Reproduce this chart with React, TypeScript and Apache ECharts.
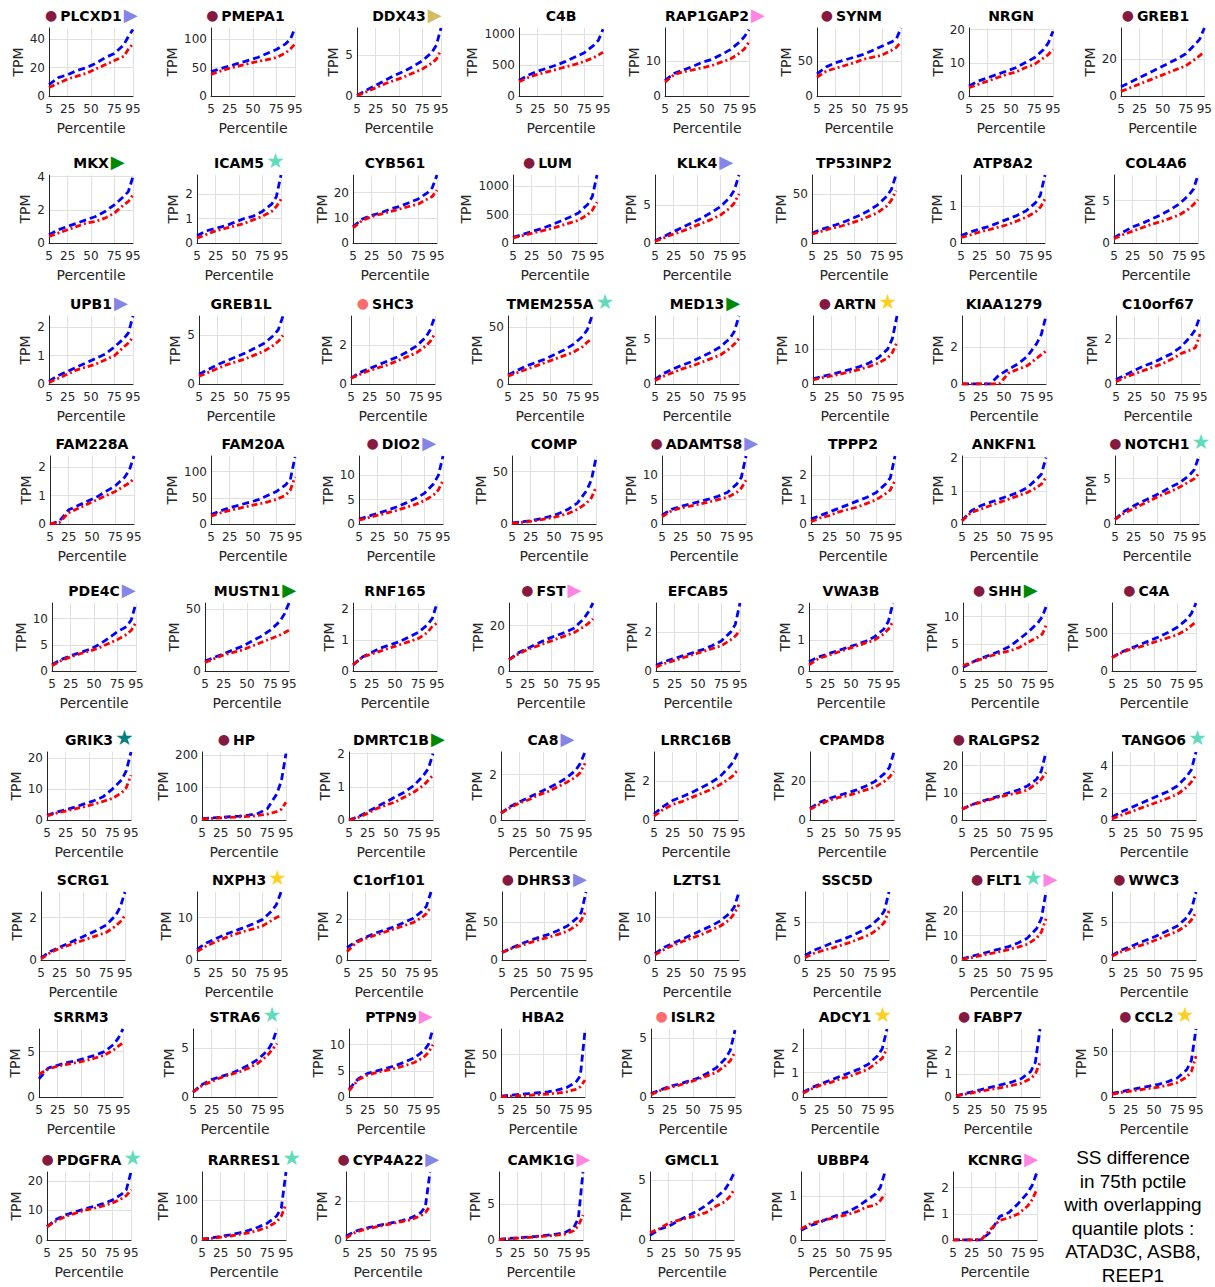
import React, { useEffect, useRef } from "react";
import * as echarts from "echarts";

// ---------------- data ----------------
const PERCENTILES = [5, 15, 25, 35, 45, 55, 65, 75, 85, 90, 95];
const X_TICKS = [5, 25, 50, 75, 95];

const GENES = [
  "PLCXD1", "PMEPA1", "DDX43", "C4B", "RAP1GAP2", "SYNM", "NRGN", "GREB1",
  "MKX", "ICAM5", "CYB561", "LUM", "KLK4", "TP53INP2", "ATP8A2", "COL4A6",
  "UPB1", "GREB1L", "SHC3", "TMEM255A", "MED13", "ARTN", "KIAA1279", "C10orf67",
  "FAM228A", "FAM20A", "DIO2", "COMP", "ADAMTS8", "TPPP2", "ANKFN1", "NOTCH1",
  "PDE4C", "MUSTN1", "RNF165", "FST", "EFCAB5", "VWA3B", "SHH", "C4A",
  "GRIK3", "HP", "DMRTC1B", "CA8", "LRRC16B", "CPAMD8", "RALGPS2", "TANGO6",
  "SCRG1", "NXPH3", "C1orf101", "DHRS3", "LZTS1", "SSC5D", "FLT1", "WWC3",
  "SRRM3", "STRA6", "PTPN9", "HBA2", "ISLR2", "ADCY1", "FABP7", "CCL2",
  "PDGFRA", "RARRES1", "CYP4A22", "CAMK1G", "GMCL1", "UBBP4", "KCNRG",
];

// c = dark red circle, s = salmon circle
const LEFT_MARK = [
  "c", "c", "", "", "", "c", "", "c",
  "", "", "", "c", "", "", "", "",
  "", "", "s", "", "", "c", "", "",
  "", "", "c", "", "c", "", "", "c",
  "", "", "", "c", "", "", "c", "c",
  "", "c", "", "", "", "", "c", "",
  "", "", "", "c", "", "", "c", "c",
  "", "", "", "", "s", "", "c", "c",
  "c", "", "c", "", "", "", "",
];
// L lavender tri, P pink tri, G green tri, K khaki tri, T light teal star, D dark teal star, Y yellow star
const RIGHT_MARK = [
  "L", "", "K", "", "P", "", "", "",
  "G", "T", "", "", "L", "", "", "",
  "L", "", "", "T", "G", "Y", "", "",
  "", "", "L", "", "L", "", "", "T",
  "L", "G", "", "P", "", "", "G", "",
  "D", "", "G", "L", "", "", "", "T",
  "", "Y", "", "L", "", "", "TP", "",
  "", "T", "P", "", "", "Y", "", "Y",
  "T", "T", "L", "P", "", "", "P",
];

const Y_MAX = [
  48, 120, 8.3, 1100, 19.5, 98, 20.5, 37,
  4.1, 2.8, 27, 1200, 9, 70, 1.85, 8,
  2.4, 7, 3.5, 60, 7.5, 19.5, 3.7, 3,
  2.4, 130, 14, 65, 14, 2.8, 2.05, 7.5,
  13, 55, 2.2, 30, 3.5, 2.2, 12.5, 900,
  22, 210, 2.05, 3, 3.5, 35, 25, 5,
  3.2, 16, 3.3, 90, 16, 9, 28, 9,
  7.5, 7, 13, 80, 5.8, 2.8, 2.95, 75,
  23, 170, 3.5, 9.5, 5.7, 1.55, 2.6,
];
const Y_STEP = [
  20, 50, 5, 500, 10, 50, 10, 20,
  2, 1, 10, 500, 5, 50, 1, 5,
  1, 5, 2, 50, 5, 10, 2, 2,
  1, 50, 5, 50, 5, 1, 1, 5,
  5, 50, 1, 20, 2, 1, 5, 500,
  10, 100, 1, 2, 2, 20, 10, 2,
  2, 10, 2, 50, 10, 5, 10, 5,
  5, 5, 5, 50, 5, 1, 1, 50,
  10, 100, 2, 5, 5, 1, 1,
];

const BLUE_TPM = [
  [8, 13, 15, 18, 20, 23, 27, 30, 36, 42, 47],
  [43, 48, 53, 58, 63, 68, 75, 82, 92, 100, 120],
  [0.1, 0.7, 1.3, 1.9, 2.5, 3.0, 3.6, 4.3, 5.3, 6.2, 8.3],
  [250, 340, 400, 450, 500, 560, 630, 700, 820, 900, 1080],
  [4.5, 6.5, 7.5, 8.5, 9.7, 10.5, 11.8, 13.3, 15.5, 17, 19],
  [32, 42, 48, 52, 56, 60, 66, 72, 78, 82, 98],
  [3, 4.5, 5.5, 6.5, 7.5, 8.5, 10, 11.5, 14, 16, 19.5],
  [5, 7.5, 10, 12.5, 15, 17.5, 20, 23, 28, 31, 37],

  [0.5, 0.8, 1.0, 1.2, 1.4, 1.6, 1.9, 2.3, 2.8, 3.1, 4.0],
  [0.3, 0.5, 0.6, 0.7, 0.85, 1.0, 1.1, 1.3, 1.6, 1.9, 2.8],
  [6.5, 9.5, 11, 12, 13.5, 14.5, 16, 17.5, 20, 22, 27],
  [100, 150, 200, 250, 310, 380, 450, 530, 680, 820, 1200],
  [0.3, 0.9, 1.5, 2.1, 2.7, 3.3, 4.0, 4.8, 6.0, 7.0, 9.0],
  [10, 14, 17, 20, 24, 28, 33, 39, 48, 55, 70],
  [0.2, 0.3, 0.38, 0.45, 0.55, 0.65, 0.75, 0.88, 1.1, 1.3, 1.85],
  [0.6, 1.3, 1.9, 2.3, 2.8, 3.3, 3.9, 4.6, 5.6, 6.3, 8.0],

  [0.1, 0.3, 0.45, 0.6, 0.75, 0.9, 1.05, 1.3, 1.6, 1.8, 2.4],
  [1.0, 1.5, 2.0, 2.4, 2.8, 3.2, 3.7, 4.2, 5.0, 5.6, 7.0],
  [0.3, 0.6, 0.8, 1.0, 1.2, 1.4, 1.65, 1.95, 2.4, 2.8, 3.5],
  [8, 12, 16, 19, 22, 26, 30, 35, 42, 48, 60],
  [0.5, 1.2, 1.7, 2.1, 2.5, 3.0, 3.5, 4.1, 5.0, 5.8, 7.5],
  [1.5, 2.2, 2.8, 3.5, 4.2, 5.0, 6.0, 7.5, 10, 13, 19.5],
  [0, 0, 0, 0, 0.5, 0.8, 1.1, 1.5, 2.2, 2.7, 3.7],
  [0.2, 0.4, 0.6, 0.8, 0.95, 1.15, 1.35, 1.65, 2.1, 2.4, 3.0],

  [0, 0.1, 0.5, 0.65, 0.8, 0.95, 1.15, 1.35, 1.65, 1.9, 2.4],
  [18, 25, 31, 36, 41, 46, 54, 62, 75, 85, 128],
  [1.0, 1.6, 2.2, 2.8, 3.5, 4.3, 5.2, 6.3, 8.3, 10, 14],
  [1, 2, 3, 5, 7, 10, 14, 20, 32, 42, 63],
  [1.8, 3.0, 3.6, 4.1, 4.6, 5.1, 5.7, 6.5, 8.2, 9.6, 14],
  [0.2, 0.35, 0.5, 0.65, 0.8, 0.95, 1.1, 1.3, 1.65, 1.9, 2.8],
  [0.1, 0.4, 0.55, 0.65, 0.75, 0.85, 0.95, 1.1, 1.35, 1.5, 2.0],
  [0.5, 1.4, 2.0, 2.5, 3.0, 3.5, 4.1, 4.6, 5.4, 6.0, 7.5],

  [1.2, 2.2, 2.9, 3.5, 4.1, 5.0, 6.2, 7.5, 8.5, 9.8, 13],
  [8, 11, 14, 17, 20, 24, 28, 33, 40, 46, 55],
  [0.2, 0.45, 0.6, 0.75, 0.85, 0.95, 1.1, 1.25, 1.5, 1.7, 2.2],
  [5, 8, 10, 12, 14, 15.5, 17, 19, 23, 26, 30],
  [0.3, 0.5, 0.65, 0.8, 0.95, 1.1, 1.3, 1.55, 2.0, 2.4, 3.5],
  [0.3, 0.45, 0.55, 0.65, 0.75, 0.85, 0.95, 1.1, 1.35, 1.6, 2.2],
  [0.7, 1.6, 2.4, 3.0, 3.7, 4.5, 5.8, 7.2, 8.8, 10, 12.3],
  [180, 250, 300, 350, 400, 450, 510, 580, 680, 760, 900],

  [1.5, 2.5, 3.3, 4.2, 5.2, 6.2, 7.5, 10, 13, 16, 22],
  [4, 6, 8, 10, 12, 15, 20, 35, 80, 120, 205],
  [0, 0.1, 0.25, 0.4, 0.55, 0.7, 0.85, 1.05, 1.35, 1.55, 2.0],
  [0.3, 0.6, 0.8, 1.0, 1.2, 1.4, 1.6, 1.85, 2.2, 2.5, 3.0],
  [0.3, 0.7, 1.0, 1.2, 1.4, 1.65, 1.9, 2.2, 2.7, 3.0, 3.5],
  [6, 9, 11, 12.5, 14, 15.5, 17.5, 20, 24, 27, 35],
  [4, 5.5, 6.8, 7.8, 8.8, 10, 11, 12.5, 15, 18, 25],
  [0.2, 0.6, 0.9, 1.2, 1.5, 1.8, 2.1, 2.5, 3.2, 3.7, 5.0],

  [0.1, 0.4, 0.6, 0.8, 1.0, 1.2, 1.4, 1.65, 2.1, 2.5, 3.2],
  [2.5, 4, 5, 6, 6.8, 7.6, 8.5, 9.5, 11.5, 13, 16],
  [0.6, 0.9, 1.1, 1.3, 1.45, 1.6, 1.8, 2.0, 2.35, 2.6, 3.3],
  [10, 16, 21, 26, 30, 34, 39, 45, 55, 63, 90],
  [1.5, 3, 4, 5, 6, 7, 8, 9.2, 11, 12.5, 16],
  [0.6, 1.3, 1.8, 2.3, 2.7, 3.2, 3.8, 4.5, 5.6, 6.5, 9.0],
  [0.5, 1.5, 2.5, 3.5, 4.5, 5.5, 7, 9, 13, 17, 28],
  [0.6, 1.3, 1.8, 2.3, 2.8, 3.3, 3.9, 4.5, 5.6, 6.6, 9.0],

  [2, 3.2, 3.5, 3.8, 4.0, 4.3, 4.6, 5.0, 5.8, 6.5, 7.5],
  [0.5, 1.3, 1.8, 2.1, 2.4, 2.8, 3.3, 3.9, 4.8, 5.6, 7.0],
  [1.5, 3.5, 4.5, 5.0, 5.5, 6.0, 6.7, 7.5, 8.8, 10, 13],
  [1, 2, 3, 4, 5, 6, 8, 11, 17, 25, 78],
  [0.3, 0.6, 0.9, 1.1, 1.35, 1.6, 2.0, 2.5, 3.3, 4.0, 5.7],
  [0.2, 0.4, 0.55, 0.7, 0.85, 1.0, 1.15, 1.35, 1.7, 2.0, 2.8],
  [0.05, 0.15, 0.25, 0.35, 0.45, 0.55, 0.65, 0.8, 1.1, 1.5, 2.95],
  [4, 6, 8, 10, 12, 14, 17, 21, 30, 40, 75],

  [4.5, 7, 8.5, 9.5, 10.5, 11.3, 12.3, 13.5, 15.5, 17, 23],
  [2, 5, 9, 13, 18, 24, 32, 42, 60, 80, 170],
  [0.2, 0.45, 0.6, 0.7, 0.8, 0.9, 1.0, 1.15, 1.4, 1.7, 3.5],
  [0.1, 0.2, 0.3, 0.4, 0.5, 0.65, 0.8, 1.0, 1.7, 3.0, 9.5],
  [0.4, 0.9, 1.15, 1.6, 2.0, 2.4, 2.9, 3.5, 4.2, 4.8, 5.6],
  [0.22, 0.33, 0.4, 0.5, 0.57, 0.64, 0.75, 0.9, 1.05, 1.2, 1.55],
  [0, 0, 0, 0, 0.3, 0.9, 1.05, 1.4, 1.8, 2.1, 2.6],
];

const RED_TPM = [
  [6, 9, 12, 14, 16, 19, 22, 25, 28, 33, 37],
  [38, 44, 49, 53, 57, 61, 64, 68, 76, 83, 92],
  [0.05, 0.5, 1.0, 1.5, 1.9, 2.3, 2.8, 3.3, 4.0, 4.5, 5.6],
  [230, 300, 350, 390, 430, 470, 510, 560, 620, 660, 710],
  [4, 6.2, 7, 7.5, 8.1, 8.7, 9.7, 10.6, 12.3, 13.5, 15.5],
  [27, 36, 40, 44, 48, 53, 56, 59, 66, 70, 78],
  [2.5, 3.5, 4.5, 5.5, 6.5, 7.2, 8.5, 9.5, 11.5, 12.5, 14],
  [2.5, 4.5, 6.5, 8.5, 10.5, 12.5, 14.5, 16.5, 20, 22, 24],

  [0.4, 0.6, 0.8, 1.0, 1.2, 1.3, 1.5, 1.8, 2.3, 2.5, 2.9],
  [0.2, 0.35, 0.5, 0.6, 0.7, 0.8, 0.95, 1.1, 1.3, 1.5, 1.8],
  [6, 9, 10.5, 11.5, 12.5, 13.5, 14.5, 15.5, 17.5, 18.5, 21],
  [90, 130, 170, 210, 250, 300, 350, 400, 500, 580, 720],
  [0.2, 0.7, 1.2, 1.6, 2.1, 2.6, 3.1, 3.7, 4.6, 5.3, 6.5],
  [9, 12, 15, 17, 20, 23, 27, 31, 38, 44, 54],
  [0.15, 0.22, 0.3, 0.36, 0.43, 0.5, 0.6, 0.7, 0.85, 0.97, 1.2],
  [0.5, 1.0, 1.4, 1.8, 2.2, 2.5, 2.9, 3.3, 4.0, 4.5, 5.1],

  [0.05, 0.2, 0.35, 0.5, 0.6, 0.7, 0.85, 1.0, 1.3, 1.45, 1.65],
  [0.8, 1.2, 1.6, 2.0, 2.3, 2.6, 3.0, 3.4, 4.0, 4.4, 5.0],
  [0.3, 0.5, 0.7, 0.85, 1.0, 1.2, 1.4, 1.6, 1.95, 2.2, 2.6],
  [7, 10, 13, 16, 19, 22, 25, 28, 33, 37, 40],
  [0.4, 0.9, 1.3, 1.7, 2.0, 2.4, 2.8, 3.2, 3.9, 4.4, 5.0],
  [1.2, 1.8, 2.3, 2.9, 3.5, 4.2, 5.0, 6.0, 7.5, 9, 12],
  [0, 0, 0, 0, 0, 0.6, 0.8, 1.0, 1.4, 1.6, 1.8],
  [0.1, 0.3, 0.45, 0.6, 0.75, 0.9, 1.1, 1.35, 1.5, 1.6, 2.2],

  [0, 0.05, 0.4, 0.55, 0.7, 0.85, 1.0, 1.15, 1.35, 1.45, 1.6],
  [15, 21, 26, 30, 34, 38, 42, 47, 55, 65, 90],
  [0.8, 1.3, 1.8, 2.3, 2.8, 3.4, 4.0, 4.8, 6.0, 7.0, 9.0],
  [0.5, 1.5, 2.5, 4, 5.5, 7.5, 10, 14, 20, 25, 35],
  [1.5, 2.7, 3.3, 3.7, 4.1, 4.5, 5.0, 5.5, 6.5, 7.4, 9.0],
  [0.1, 0.25, 0.35, 0.5, 0.6, 0.7, 0.85, 1.0, 1.25, 1.4, 1.8],
  [0.1, 0.35, 0.45, 0.55, 0.65, 0.75, 0.85, 0.95, 1.1, 1.2, 1.4],
  [0.5, 1.2, 1.7, 2.2, 2.7, 3.2, 3.6, 4.1, 4.7, 5.0, 5.6],

  [1.0, 2.0, 2.7, 3.3, 3.8, 4.4, 5.2, 6.0, 7.0, 7.8, 9.3],
  [7, 10, 13, 15, 17, 20, 23, 26, 29, 31, 33],
  [0.2, 0.45, 0.55, 0.65, 0.75, 0.85, 0.95, 1.05, 1.25, 1.45, 1.55],
  [5, 7.5, 9.5, 11, 12.5, 14, 15.5, 17, 19.5, 21, 23],
  [0.2, 0.4, 0.55, 0.7, 0.85, 1.0, 1.15, 1.3, 1.6, 1.8, 2.1],
  [0.2, 0.4, 0.5, 0.6, 0.7, 0.8, 0.9, 1.0, 1.2, 1.35, 1.6],
  [1.0, 1.6, 2.2, 2.8, 3.3, 3.7, 4.3, 5.3, 6.2, 6.8, 8.8],
  [180, 240, 290, 320, 360, 400, 440, 480, 550, 600, 650],

  [1.3, 2.2, 2.9, 3.6, 4.3, 5.1, 6.0, 7.0, 8.8, 10.5, 14.5],
  [3, 5, 6.5, 8, 9.5, 11, 14, 18, 26, 33, 55],
  [0, 0.08, 0.2, 0.35, 0.45, 0.55, 0.7, 0.85, 1.05, 1.2, 1.35],
  [0.3, 0.55, 0.75, 0.9, 1.1, 1.25, 1.45, 1.65, 1.9, 2.1, 2.5],
  [0.2, 0.55, 0.8, 0.95, 1.15, 1.35, 1.55, 1.8, 2.1, 2.3, 2.6],
  [5.5, 8, 10, 11.5, 12.5, 14, 15.5, 17, 20, 22, 25],
  [4, 5.5, 6.5, 7.5, 8.5, 9.3, 10, 11, 13.5, 15, 17.5],
  [0.1, 0.35, 0.6, 0.85, 1.1, 1.35, 1.6, 1.9, 2.4, 2.8, 3.3],

  [0.05, 0.35, 0.55, 0.7, 0.85, 1.0, 1.15, 1.3, 1.6, 1.8, 2.1],
  [2, 3.3, 4.3, 5.2, 6, 6.7, 7.3, 8, 9.3, 10, 10.5],
  [0.4, 0.85, 1.05, 1.2, 1.35, 1.5, 1.65, 1.8, 2.05, 2.25, 2.6],
  [10, 15, 19, 23, 27, 30, 34, 38, 46, 53, 65],
  [1.2, 2.5, 3.5, 4.4, 5.2, 6.0, 7, 8, 9.5, 11, 13],
  [0.3, 0.9, 1.3, 1.6, 2.0, 2.4, 2.9, 3.4, 4.3, 5.0, 6.5],
  [0.3, 1, 1.8, 2.6, 3.4, 4.3, 5.3, 6.5, 9, 11.5, 17],
  [0.5, 1.1, 1.5, 1.9, 2.3, 2.8, 3.3, 3.8, 4.6, 5.3, 6.3],

  [2.5, 3.1, 3.4, 3.6, 3.8, 4.0, 4.3, 4.6, 5.2, 5.6, 6.0],
  [0.5, 1.2, 1.6, 2.0, 2.3, 2.6, 3.0, 3.5, 4.3, 4.9, 5.5],
  [1.2, 3.3, 4.2, 4.7, 5.1, 5.5, 6.0, 6.6, 7.6, 8.5, 10],
  [0.5, 1, 1.5, 2, 3, 3.5, 4.5, 6, 9, 12, 20],
  [0.2, 0.55, 0.8, 1.0, 1.25, 1.5, 1.8, 2.1, 2.7, 3.1, 3.8],
  [0.15, 0.35, 0.5, 0.6, 0.75, 0.85, 1.0, 1.15, 1.45, 1.6, 2.0],
  [0.05, 0.12, 0.2, 0.28, 0.35, 0.42, 0.5, 0.6, 0.8, 1.0, 1.5],
  [3, 5, 6.5, 8, 9.5, 11, 13, 16, 22, 28, 45],

  [4.5, 6.5, 8, 9, 10, 10.7, 11.5, 12.5, 14, 15, 17],
  [2, 4, 7, 10, 14, 18, 24, 32, 45, 60, 90],
  [0.1, 0.4, 0.55, 0.65, 0.75, 0.85, 0.95, 1.05, 1.25, 1.4, 1.75],
  [0.05, 0.15, 0.25, 0.35, 0.45, 0.55, 0.65, 0.8, 1.3, 2.0, 3.5],
  [0.6, 0.95, 1.4, 1.65, 1.85, 2.05, 2.3, 2.8, 3.2, 3.6, 4.2],
  [0.25, 0.37, 0.43, 0.48, 0.53, 0.58, 0.65, 0.75, 0.8, 0.9, 1.05],
  [0, 0, 0, 0, 0.4, 0.75, 0.85, 1.0, 1.3, 1.55, 1.95],
];

const NOTE_LINES = [
  "SS difference",
  "in 75th pctile",
  "with overlapping",
  "quantile plots :",
  "ATAD3C, ASB8,",
  "REEP1",
];

// ---------------- layout ----------------
const ROW_TOP = [28, 175, 316, 456, 603, 752, 892, 1029, 1172];
const PANEL_LEFT = [
  49, 211, 357, 519, 665, 817, 969, 1121,
  49, 197, 353, 513, 655, 812, 961, 1114,
  49, 199, 351, 508, 655, 813, 962, 1116,
  50, 211, 359, 512, 662, 811, 962, 1115,
  52, 205, 353, 509, 656, 809, 963, 1112,
  47, 202, 349, 501, 654, 810, 962, 1112,
  41, 197, 347, 502, 655, 805, 962, 1112,
  39, 193, 349, 501, 651, 803, 956, 1112,
  47, 202, 346, 499, 650, 801, 953,
];
const PLOT_W = 84;
const PLOT_H = 68;
const FONT = "DejaVu Sans";
const AXIS_COLOR = "#262626";
const GRID_COLOR = "#e0e0e0";

const MARK_STYLE: Record<string, { glyph: string; color: string; size: number; dy: number }> = {
  c: { glyph: "●", color: "#86193f", size: 14, dy: -1 },
  s: { glyph: "●", color: "#ff6b6b", size: 14, dy: -1 },
  L: { glyph: "▶", color: "#8585e5", size: 18, dy: -2 },
  P: { glyph: "▶", color: "#ff85e2", size: 18, dy: -2 },
  G: { glyph: "▶", color: "#008800", size: 18, dy: -2 },
  K: { glyph: "▶", color: "#d4bc5e", size: 18, dy: -2 },
  T: { glyph: "★", color: "#60dcbc", size: 21, dy: -2 },
  D: { glyph: "★", color: "#008080", size: 21, dy: -2 },
  Y: { glyph: "★", color: "#ffd020", size: 21, dy: -2 },
};

let measureCtx: CanvasRenderingContext2D | null = null;
function textWidth(text: string, font: string): number {
  if (!measureCtx) measureCtx = document.createElement("canvas").getContext("2d");
  if (!measureCtx) return text.length * 8;
  measureCtx.font = font;
  return measureCtx.measureText(text).width;
}

function buildOption() {
  const grid: any[] = [];
  const xAxis: any[] = [];
  const yAxis: any[] = [];
  const series: any[] = [];
  const graphic: any[] = [];

  GENES.forEach((gene, i) => {
    const row = Math.floor(i / 8);
    const left = PANEL_LEFT[i];
    const top = ROW_TOP[row];
    const max = Y_MAX[i];
    const step = Y_STEP[i];
    const ratio = max / step;
    const aligned = Math.abs(ratio - Math.round(ratio)) < 1e-9;
    const lastTick = Math.floor(ratio + 1e-9) * step;
    const labelW = String(lastTick).length * 7.63;

    grid.push({ left, top, width: PLOT_W, height: PLOT_H });

    xAxis.push({
      type: "value",
      gridIndex: i,
      min: 5,
      max: 95,
      name: "Percentile",
      nameLocation: "middle",
      nameGap: 25,
      nameTextStyle: { fontSize: 14, color: AXIS_COLOR, fontFamily: FONT },
      axisLine: { show: true, onZero: false, lineStyle: { color: AXIS_COLOR, width: 1 } },
      axisTick: { show: false, customValues: X_TICKS },
      axisLabel: {
        customValues: X_TICKS,
        fontSize: 12,
        color: AXIS_COLOR,
        fontFamily: FONT,
        margin: 7,
        formatter: (v: number) => String(v),
      },
      splitLine: { show: false },
    });

    yAxis.push({
      type: "value",
      gridIndex: i,
      min: 0,
      max,
      interval: step,
      name: "TPM",
      nameLocation: "middle",
      nameGap: labelW + 9,
      nameTextStyle: { fontSize: 14, color: AXIS_COLOR, fontFamily: FONT },
      axisLine: { show: true, onZero: false, lineStyle: { color: AXIS_COLOR, width: 1 } },
      axisTick: { show: false },
      axisLabel: {
        fontSize: 12,
        color: AXIS_COLOR,
        fontFamily: FONT,
        margin: 4,
        showMaxLabel: aligned,
        formatter: (v: number) => String(v),
      },
      splitLine: {
        show: true,
        showMinLine: false,
        showMaxLine: aligned,
        lineStyle: { color: GRID_COLOR, width: 1 },
      },
    });

    series.push({
      type: "line",
      xAxisIndex: i,
      yAxisIndex: i,
      data: PERCENTILES.map((p, k) => [p, BLUE_TPM[i][k]]),
      showSymbol: false,
      symbol: "none",
      lineStyle: { color: "#0000ff", width: 2.8, type: [7, 4] },
      z: 3,
      silent: true,
      markLine: {
        silent: true,
        symbol: "none",
        label: { show: false },
        lineStyle: { color: GRID_COLOR, width: 1, type: "solid" },
        emphasis: { disabled: true },
        z: 1,
        data: X_TICKS.slice(1).map((t) => ({ xAxis: t })),
      },
    });
    series.push({
      type: "line",
      xAxisIndex: i,
      yAxisIndex: i,
      data: PERCENTILES.map((p, k) => [p, RED_TPM[i][k]]),
      showSymbol: false,
      symbol: "none",
      lineStyle: { color: "#ff0000", width: 2.8, type: [6, 3, 2, 3] },
      z: 4,
      silent: true,
    });

    // title
    const cx = left + PLOT_W / 2;
    const ty = top - 12;
    const titleFont = `bold 14px "${FONT}"`;
    const w = textWidth(gene, titleFont);
    graphic.push({
      type: "text",
      x: cx,
      y: ty,
      silent: true,
      style: {
        text: gene,
        fontFamily: FONT,
        fontSize: 14,
        fontWeight: "bold",
        fill: "#000",
        align: "center",
        verticalAlign: "middle",
      },
    });
    if (LEFT_MARK[i]) {
      const m = MARK_STYLE[LEFT_MARK[i]];
      graphic.push({
        type: "text",
        x: cx - w / 2 - 3,
        y: ty + m.dy,
        silent: true,
        style: {
          text: m.glyph,
          fontFamily: FONT,
          fontSize: m.size,
          fill: m.color,
          align: "right",
          verticalAlign: "middle",
        },
      });
    }
    let rx = cx + w / 2 + 2;
    for (const code of RIGHT_MARK[i].split("")) {
      if (!code) continue;
      const m = MARK_STYLE[code];
      graphic.push({
        type: "text",
        x: rx,
        y: ty + m.dy,
        silent: true,
        style: {
          text: m.glyph,
          fontFamily: FONT,
          fontSize: m.size,
          fill: m.color,
          align: "left",
          verticalAlign: "middle",
        },
      });
      rx += textWidth(m.glyph, `${m.size}px "${FONT}"`) + 1;
    }
  });

  graphic.push({
    type: "text",
    x: 1133,
    y: 1146,
    silent: true,
    style: {
      text: NOTE_LINES.join("\n"),
      fontFamily: "Liberation Sans",
      fontSize: 19,
      lineHeight: 23.5,
      fill: "#000",
      align: "center",
      verticalAlign: "top",
    },
  });

  return {
    animation: false,
    backgroundColor: "#ffffff",
    textStyle: { fontFamily: FONT },
    grid,
    xAxis,
    yAxis,
    series,
    graphic,
  };
}

export default function App() {
  const ref = useRef<HTMLDivElement>(null);
  useEffect(() => {
    if (!ref.current) return;
    const chart = echarts.init(ref.current, null, { renderer: "svg" });
    chart.setOption(buildOption());
    return () => chart.dispose();
  }, []);
  return (
    <div
      ref={ref}
      style={{
        position: "absolute",
        left: 0,
        top: 0,
        width: 1215,
        height: 1287,
        background: "#ffffff",
      }}
    />
  );
}
